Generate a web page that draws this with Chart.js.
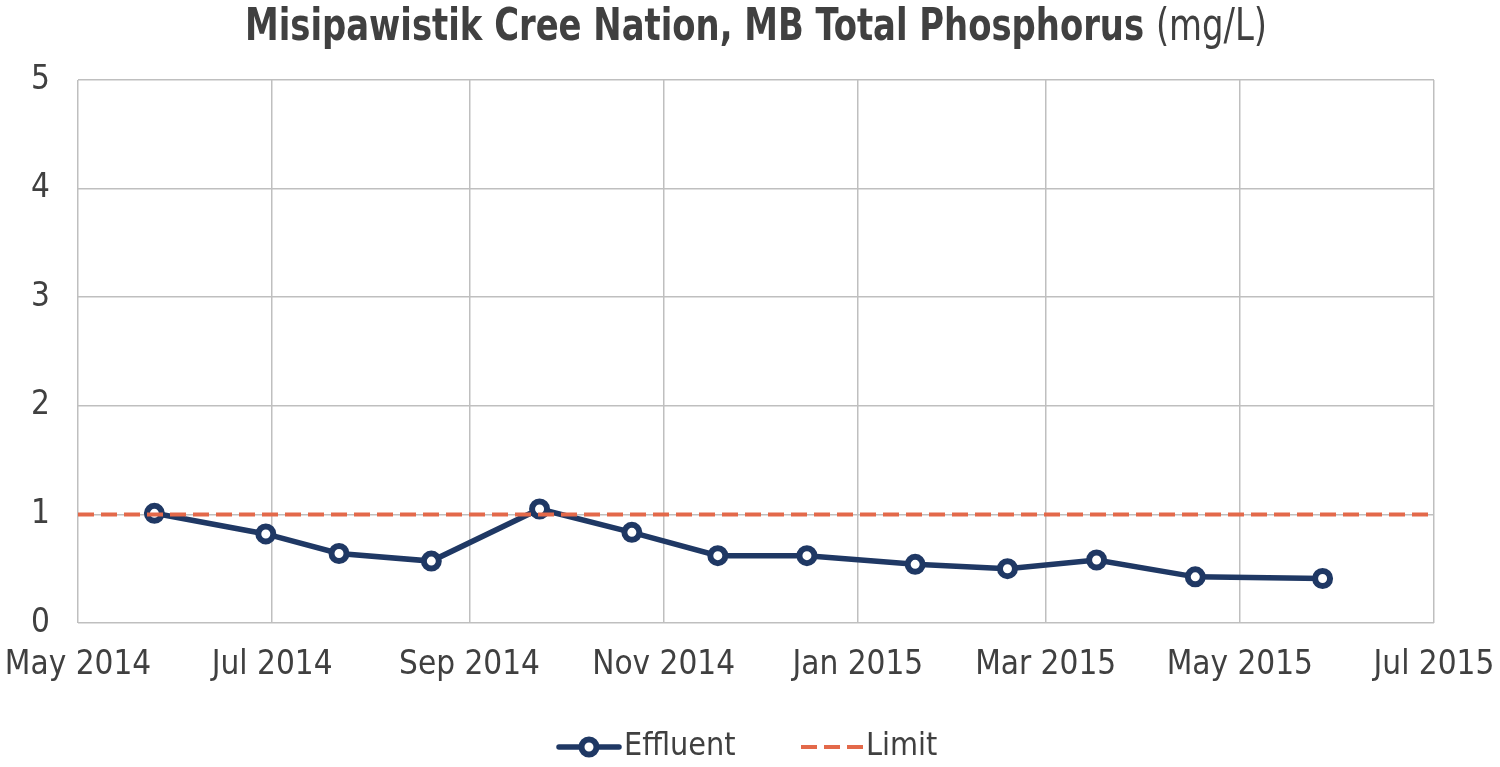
<!DOCTYPE html>
<html>
<head>
<meta charset="utf-8">
<script src="https://cdn.jsdelivr.net/npm/chart.js@4.4.1/dist/chart.umd.min.js"></script>
<style>
  html, body { margin: 0; padding: 0; background: #fff; }
  #wrap { width: 1500px; height: 767px; }
</style>
</head>
<body>
<div id="wrap"><canvas id="chart" width="1500" height="767"></canvas></div>
<script>
// --- dados ---
const sampleDates = ['2014-05-25', '2014-06-29', '2014-07-22', '2014-08-20', '2014-09-23', '2014-10-22',
    '2014-11-18', '2014-12-16', '2015-01-19', '2015-02-17', '2015-03-17', '2015-04-17', '2015-05-27'];
const effluentValues = [1.01, 0.82, 0.64, 0.57, 1.05, 0.835, 0.62, 0.62, 0.54, 0.50, 0.58, 0.425, 0.41];
const limitDates = ['2014-05-01', '2015-07-01'];
const limitValues = [1, 1];
const tickDates = ['2014-05-01', '2014-07-01', '2014-09-01', '2014-11-01', '2015-01-01', '2015-03-01', '2015-05-01', '2015-07-01'];
const tickLabels = ['May 2014', 'Jul 2014', 'Sep 2014', 'Nov 2014', 'Jan 2015', 'Mar 2015', 'May 2015', 'Jul 2015'];
const yTicks = [0, 1, 2, 3, 4, 5];

const FONT = "'Liberation Sans Narrow', 'DejaVu Sans Condensed', 'Roboto', sans-serif";
const TEXT = '#404040';
const NAVY = '#1f3864';
const ORANGE = '#e3694a';

// dias desde o início do eixo
const origin = Date.UTC(2014, 4, 1);
const toDay = (s) => {
    const p = s.split('-').map(Number);
    return (Date.UTC(p[0], p[1] - 1, p[2]) - origin) / 86400000;
};
const tickDays = tickDates.map(toDay);

// título com parte em negrito + unidade normal, um pouco mais estreito (fonte condensada)
const titlePlugin = {
    id: 'titulo',
    afterDraw(chart) {
        const ctx = chart.ctx;
        const area = chart.chartArea;
        const boldPart = 'Misipawistik Cree Nation, MB Total Phosphorus ';
        const normalPart = '(mg/L)';
        const sx = 0.855;
        ctx.save();
        ctx.fillStyle = TEXT;
        ctx.textBaseline = 'alphabetic';
        ctx.font = 'bold 44px ' + FONT;
        const w1 = ctx.measureText(boldPart).width;
        ctx.font = '44px ' + FONT;
        const w2 = ctx.measureText(normalPart).width;
        const cx = (area.left + area.right) / 2;
        ctx.translate(cx, 40);
        ctx.scale(sx, 1);
        const x0 = -(w1 + w2) / 2;
        ctx.font = 'bold 44px ' + FONT;
        ctx.fillText(boldPart, x0, 0);
        ctx.font = '44px ' + FONT;
        ctx.fillText(normalPart, x0 + w1, 0);
        ctx.restore();
    }
};

const legendPlugin = {
    id: 'legenda',
    afterDraw(chart) {
        const ctx = chart.ctx;
        const y = 747;
        const ds = chart.data.datasets;
        ctx.save();
        ctx.font = '32px ' + FONT;
        ctx.fillStyle = TEXT;
        ctx.textBaseline = 'middle';
        // Effluent
        ctx.strokeStyle = ds[0].borderColor;
        ctx.lineWidth = ds[0].borderWidth;
        ctx.lineCap = 'round';
        ctx.beginPath(); ctx.moveTo(559, y); ctx.lineTo(619, y); ctx.stroke();
        ctx.beginPath(); ctx.arc(589, y, ds[0].pointRadius, 0, Math.PI * 2);
        ctx.fillStyle = '#fff'; ctx.fill();
        ctx.lineWidth = ds[0].pointBorderWidth; ctx.stroke();
        ctx.fillStyle = TEXT;
        ctx.fillText(ds[0].label, 624, y);
        // Limit
        ctx.strokeStyle = ds[1].borderColor;
        ctx.lineWidth = ds[1].borderWidth;
        ctx.lineCap = 'butt';
        ctx.setLineDash(ds[1].borderDash);
        ctx.beginPath(); ctx.moveTo(801, y); ctx.lineTo(863, y); ctx.stroke();
        ctx.setLineDash([]);
        ctx.fillText(ds[1].label, 866, y);
        ctx.restore();
    }
};

new Chart(document.getElementById('chart'), {
    type: 'line',
    data: {
        datasets: [
            {
                label: 'Effluent',
                data: sampleDates.map((d, i) => ({ x: toDay(d), y: effluentValues[i] })),
                borderColor: NAVY, borderWidth: 5.5, tension: 0,
                pointRadius: 7.5, pointBorderWidth: 6, pointBackgroundColor: '#fff', pointBorderColor: NAVY,
                order: 1
            },
            {
                label: 'Limit',
                data: limitDates.map((d, i) => ({ x: toDay(d), y: limitValues[i] })),
                borderColor: ORANGE, borderWidth: 4, borderDash: [16, 7], pointRadius: 0,
                order: 0
            }
        ]
    },
    options: {
        responsive: false, animation: false, devicePixelRatio: 1,
        layout: { padding: { top: 80, right: 66, bottom: 0, left: 0 } },
        plugins: { legend: { display: false }, tooltip: { enabled: false }, title: { display: false } },
        scales: {
            x: {
                type: 'linear', min: tickDays[0], max: tickDays[tickDays.length - 1],
                afterBuildTicks: (scale) => { scale.ticks = tickDays.map(v => ({ value: v })); },
                afterFit: (scale) => { scale.height = 144; scale.paddingLeft = 0; scale.paddingRight = 0; },
                grid: { color: '#bfbfbf', lineWidth: 1.5, drawTicks: false },
                border: { display: false },
                ticks: {
                    color: TEXT, font: { family: FONT, size: 33 }, padding: 23, maxRotation: 0, autoSkip: false,
                    callback: (v) => tickLabels[tickDays.indexOf(v)]
                }
            },
            y: {
                min: 0, max: 5,
                afterBuildTicks: (scale) => { scale.ticks = yTicks.map(v => ({ value: v })); },
                afterFit: (scale) => { scale.width = 78; scale.paddingTop = 0; scale.paddingBottom = 0; },
                grid: { color: '#bfbfbf', lineWidth: 1.5, drawTicks: false },
                border: { display: false },
                ticks: { color: TEXT, font: { family: FONT, size: 33 }, padding: 28 }
            }
        }
    },
    plugins: [titlePlugin, legendPlugin]
});
</script>
</body>
</html>
